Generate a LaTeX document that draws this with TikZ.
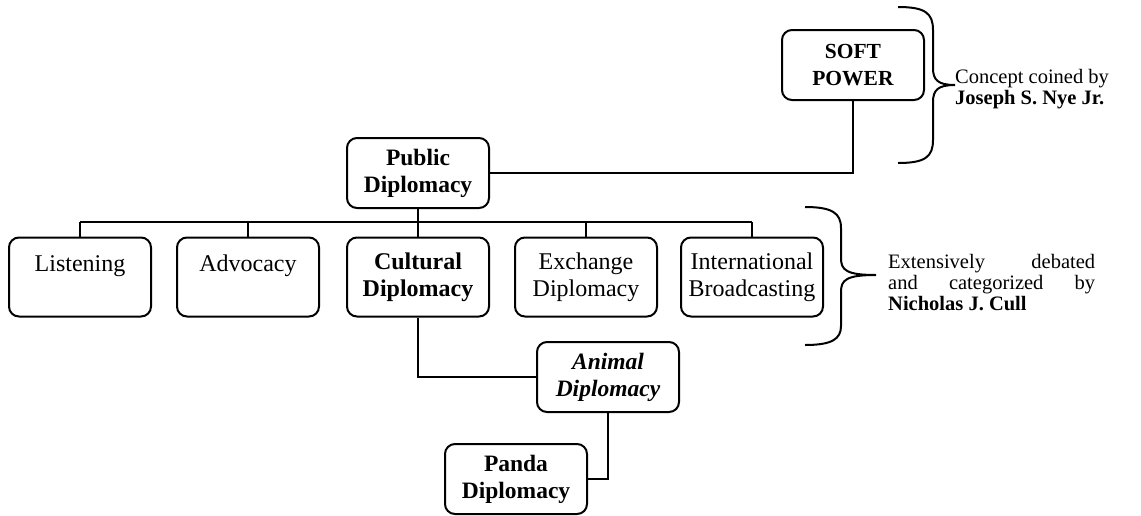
\documentclass[tikz,border=0pt]{standalone}
\usepackage{fontspec}
\setmainfont{Liberation Serif}
\begin{document}
\begin{tikzpicture}[x=1pt,y=-1pt,
  box/.style={draw,line width=2pt,rounded corners=10pt,minimum width=142pt,minimum height=70pt,align=center,inner sep=1pt,font=\fontsize{23.5}{27}\selectfont},
  rowbox/.style={box,minimum height=79pt,font=\fontsize{24}{27}\selectfont},
  link/.style={line width=1.7pt},
  brc/.style={line width=2pt},
  note/.style={anchor=west,align=left,inner sep=0pt,font=\fontsize{20.5}{21}\selectfont}]
\useasboundingbox (0,0) rectangle (1141,515);
% top: soft power -> public diplomacy
\node[box,font=\fontsize{21.5}{27}\selectfont] (soft) at (853,65) {\textbf{SOFT}\\\textbf{POWER}};
\node[box] (public) at (418,173) {\textbf{Public}\\\textbf{Diplomacy}};
\draw[link] (public.east) -| (soft.south);
% the five branches (Cull)
\foreach \x/\name/\txt in {80/listen/{Listening\\\mbox{}},248/advoc/{Advocacy\\\mbox{}},418/cult/{\textbf{Cultural}\\\textbf{Diplomacy}},586/exch/{Exchange\\Diplomacy},752/intl/{International\\Broadcasting}} {
  \node[rowbox] (\name) at (\x,277) {\txt};
}
\coordinate (bar) at (0,222);
\draw[link] (listen.north |- bar) -- (intl.north |- bar);
\draw[link] (public.south) -- (public.south |- bar);
\foreach \name in {listen,advoc,cult,exch,intl} {
  \draw[link] (\name.north) -- (\name.north |- bar);
}
% animal and panda diplomacy
\node[box] (animal) at (608,377) {\textbf{\textit{Animal}}\\\textbf{\textit{Diplomacy}}};
\node[box] (panda) at (516,479) {\textbf{Panda}\\\textbf{Diplomacy}};
\draw[link] (cult.south) |- (animal.west);
\draw[link] (animal.south) |- (panda.east);
% braces and notes
\draw[brc] (898,7) .. controls (925,7) and (933,13) .. (933,30) -- (933,68)
  .. controls (933,80) and (938,85) .. (955,85) .. controls (938,85) and (933,90) .. (933,102)
  -- (933,140) .. controls (933,157) and (925,163) .. (898,163);
\node[note] (nye) at (955,89) {Concept coined by\\\textbf{Joseph S. Nye Jr.}};
\draw[brc] (805,207) .. controls (832,207) and (841,213) .. (841,228) -- (841,258)
  .. controls (841,270) and (846,275) .. (876,275) .. controls (846,275) and (841,280) .. (841,292)
  -- (841,326) .. controls (841,339) and (832,345) .. (805,345);
\node[note] (cull) at (888,283) {\makebox[207pt][s]{Extensively debated}\\\makebox[207pt][s]{and categorized by}\\\textbf{Nicholas J. Cull}};
\end{tikzpicture}
\end{document}
